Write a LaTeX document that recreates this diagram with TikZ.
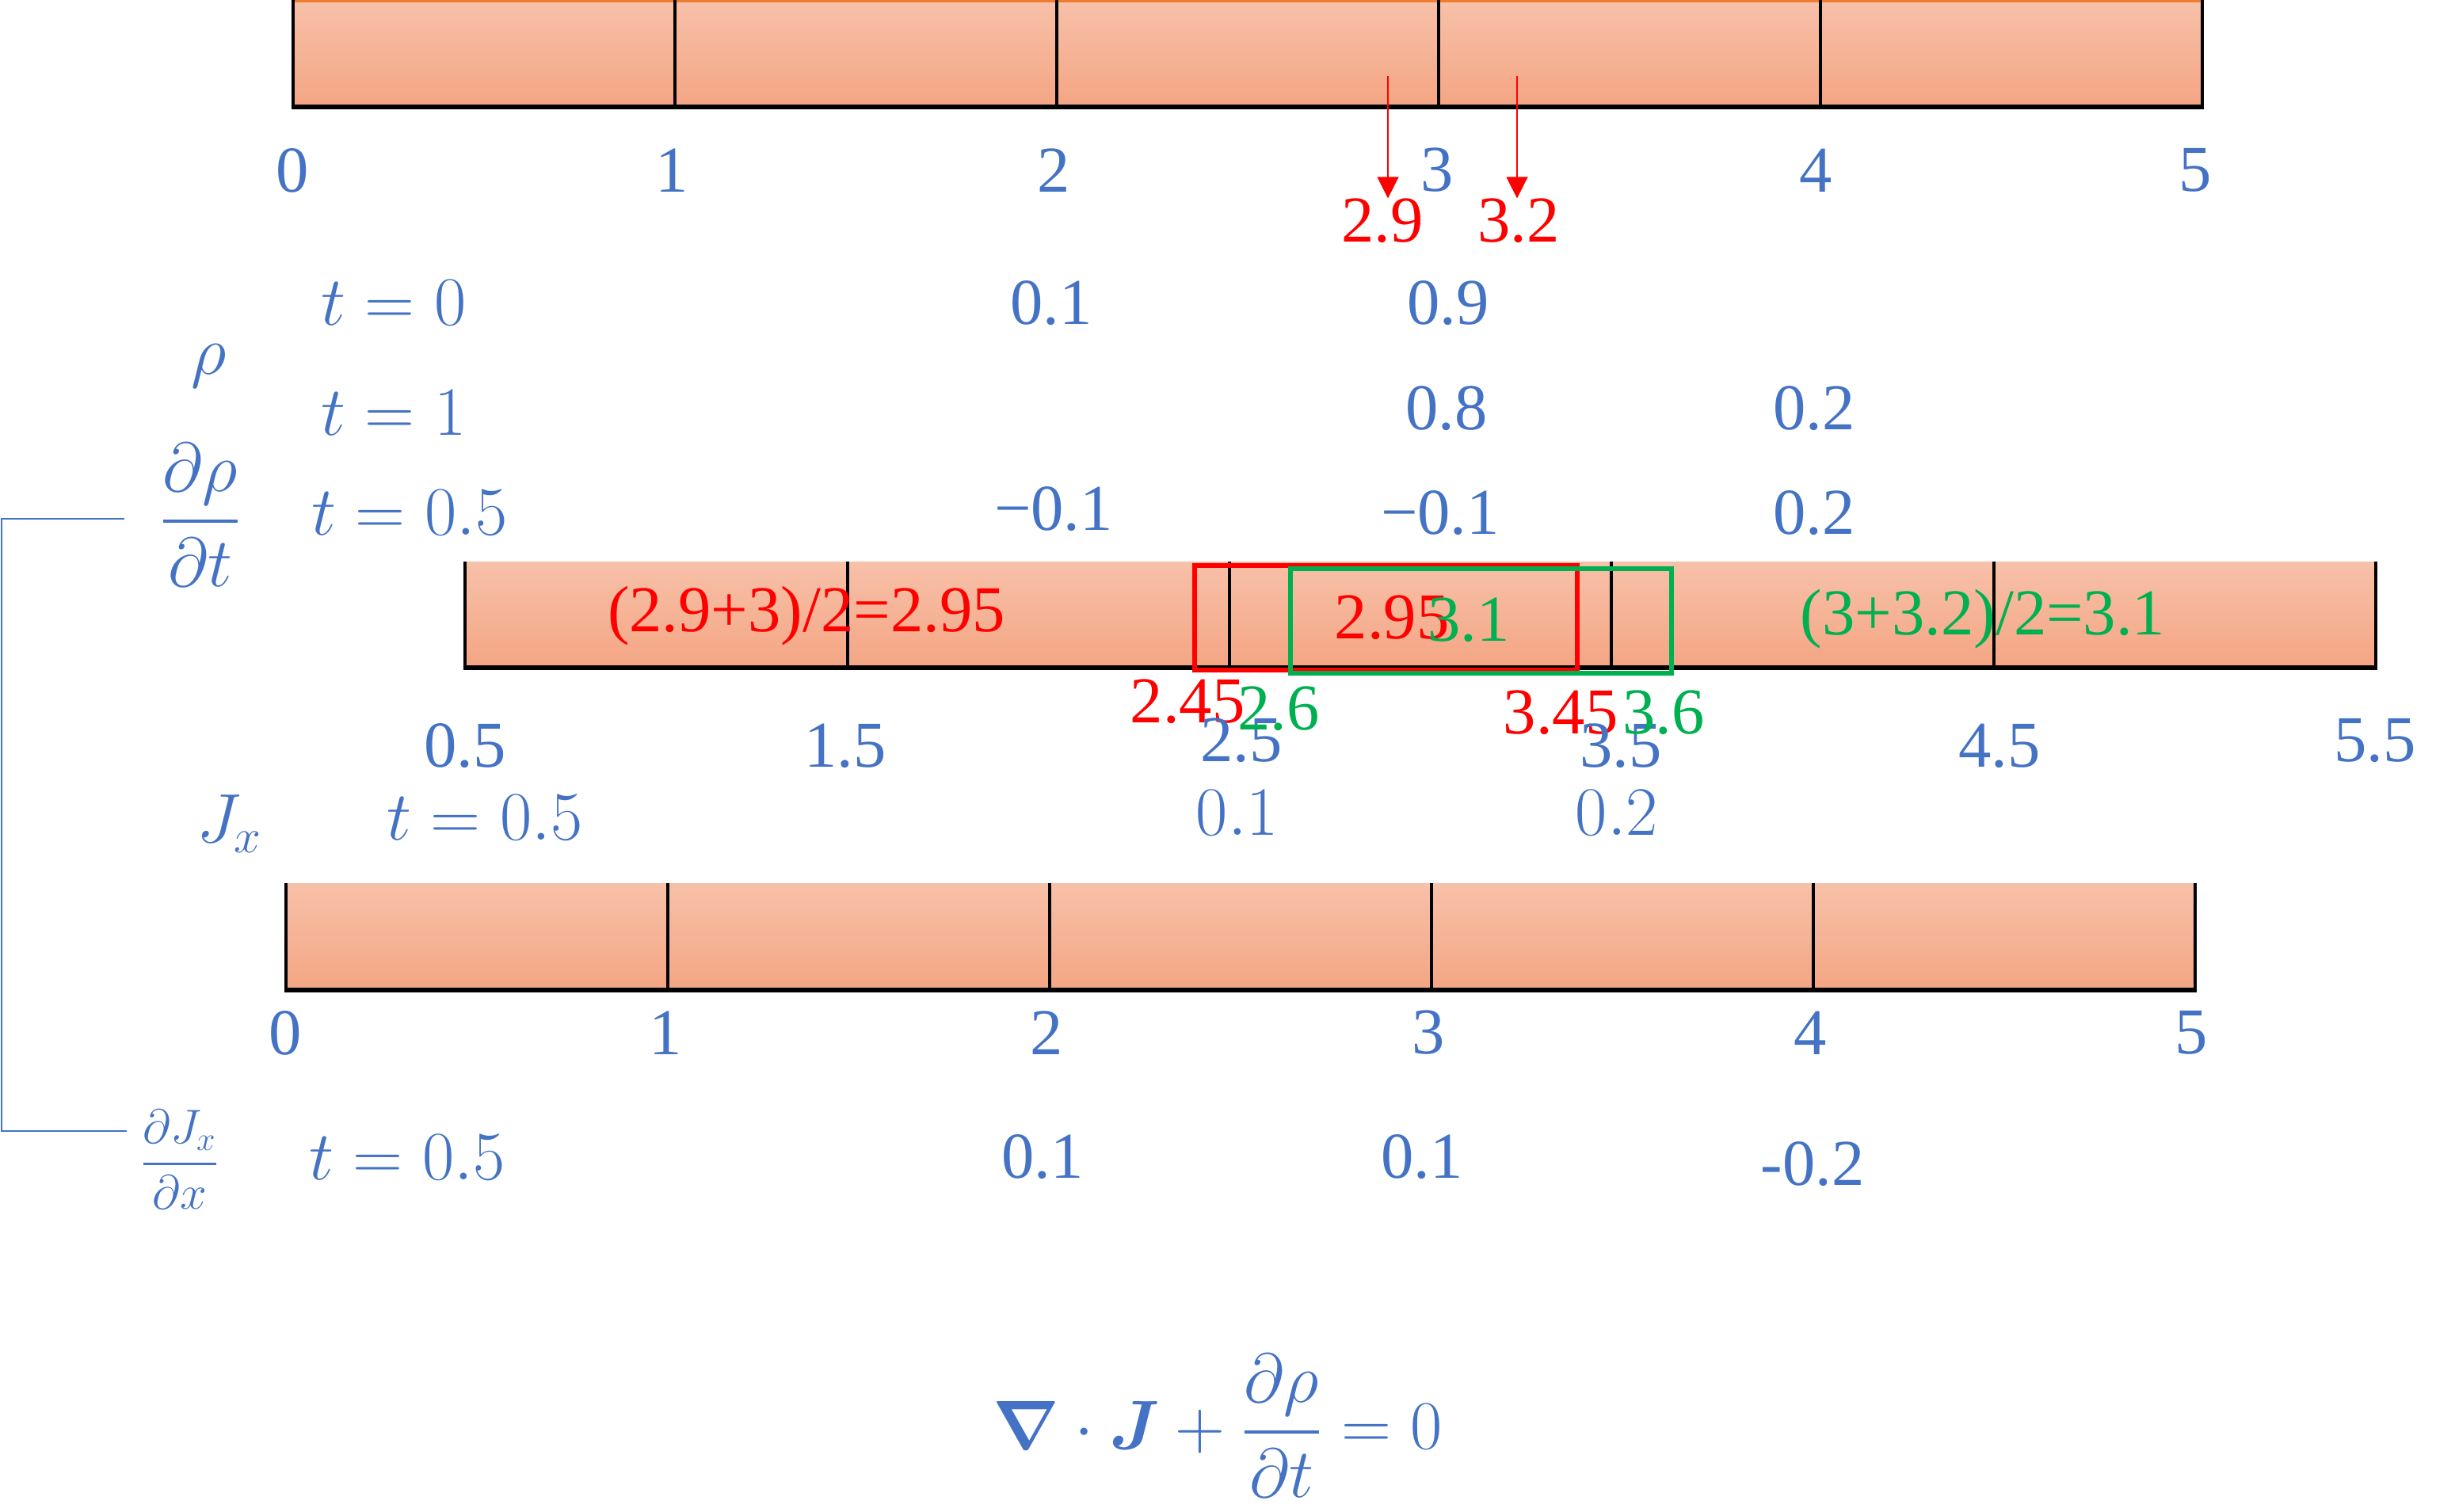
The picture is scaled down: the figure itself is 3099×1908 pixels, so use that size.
\documentclass[tikz,border=0pt]{standalone}
\usepackage{amsmath}
\usepackage{fontspec}
\setmainfont{Liberation Serif}
\usetikzlibrary{arrows.meta}

\definecolor{ublue}{RGB}{68,114,196}
\definecolor{ured}{RGB}{255,0,0}
\definecolor{ugreen}{RGB}{0,176,80}
\definecolor{uorange}{RGB}{237,125,49}
\definecolor{cellTop}{RGB}{247,193,169}
\definecolor{cellBot}{RGB}{244,165,131}

\tikzset{
  numtxt/.style={inner sep=0pt, font=\fontsize{23.5}{28}\selectfont},
  bluenum/.style={numtxt, text=ublue},
  rednum/.style={numtxt, text=ured},
  greennum/.style={numtxt, text=ugreen},
  mth/.style={inner sep=0pt, text=ublue, font=\fontsize{25}{30}\selectfont},
  cellfill/.style={top color=cellTop, bottom color=cellBot},
  divider/.style={black, line width=0.9pt},
  baseedge/.style={black, line width=1.5pt},
  winbox/.style={line width=1.7pt},
}

\begin{document}
\begin{tikzpicture}[x=0.01cm, y=-0.01cm]
\useasboundingbox (0,0) rectangle (3099,1908);

% top bar, rho on 0..5
\shade[cellfill] (370,0) rectangle (2780,135);
\draw[uorange, line width=0.9pt] (370,1.5) -- (2780,1.5);
\draw[divider] (370,0) -- (370,135);
\draw[divider] (852,0) -- (852,135);
\draw[divider] (1334,0) -- (1334,135);
\draw[divider] (1816,0) -- (1816,135);
\draw[divider] (2298,0) -- (2298,135);
\draw[divider] (2780,0) -- (2780,135);
\draw[baseedge] (368,135) -- (2782,135);

\node[bluenum] (top0) at (369,215) {0};
\node[bluenum] (top1) at (848,215) {1};
\node[bluenum] (top2) at (1330,215) {2};
\node[bluenum] (top3) at (1814,215) {3};
\node[bluenum] (top4) at (2292,215) {4};
\node[bluenum] (top5) at (2771,215) {5};

\node[rednum] (pos29) at (1745,279) {2.9};
\node[rednum] (pos32) at (1917,279) {3.2};
\coordinate (src29) at (1752,96);
\coordinate (src32) at (1915,96);
\draw[ured, line width=0.45pt, -{Triangle[width=7.7pt, length=7.7pt]}] (src29) -- (pos29.north -| src29);
\draw[ured, line width=0.45pt, -{Triangle[width=7.7pt, length=7.7pt]}] (src32) -- (pos32.north -| src32);

% rho rows
\node[mth] (rho) at (264,462) {$\rho$};
\node[mth] (tzero) at (497,382) {$t=0$};
\node[bluenum] (r01) at (1327,383) {0.1};
\node[bluenum] (r09) at (1828,383) {0.9};
\node[mth] (tone) at (497,521) {$t=1$};
\node[bluenum] (r08) at (1826,516) {0.8};
\node[bluenum] (r02) at (2290,516) {0.2};

\node[mth] (drho) at (253,650) {$\displaystyle\frac{\partial\rho}{\partial t}$};
\node[mth] (thalf) at (517,647) {$t=0.5$};
\node[bluenum] (d1) at (1330,643) {−0.1};
\node[bluenum] (d2) at (1818,648) {−0.1};
\node[bluenum] (d3) at (2290,648) {0.2};

% middle bar, J on 0.5..5.5
\shade[cellfill] (587,709) rectangle (2999,843);
\draw[divider] (587,709) -- (587,843);
\draw[divider] (1070,709) -- (1070,843);
\draw[divider] (1552,709) -- (1552,843);
\draw[divider] (2034,709) -- (2034,843);
\draw[divider] (2517,709) -- (2517,843);
\draw[divider] (2999,709) -- (2999,843);
\draw[baseedge] (585,843) -- (3001,843);

\node[rednum] (avgL) at (1018,778) {(2.9+3)/2=2.95};
\node[greennum] (avgR) at (2503,782) {(3+3.2)/2=3.1};

\draw[ured, winbox] (1508,714) rectangle (1991,846);
\node[rednum] (inL) at (1757,780) {2.95};
\draw[ugreen, winbox] (1629,718) rectangle (2110,850);
\node[greennum] (inR) at (1854,783) {3.1};

\node[rednum] (e245) at (1499,886) {2.45};
\node[rednum] (e345) at (1970,900) {3.45};
\node[bluenum] (mid05) at (587,942) {0.5};
\node[bluenum] (mid15) at (1067,942) {1.5};
\node[bluenum] (mid25) at (1567,935) {2.5};
\node[bluenum] (mid35) at (2046,942) {3.5};
\node[bluenum] (mid45) at (2524,942) {4.5};
\node[bluenum] (mid55) at (2998,935) {5.5};
\node[greennum] (e26) at (1614,895) {2.6};
\node[greennum] (e36) at (2100,900) {3.6};

% J row
\node[mth] (jx) at (290,1040) {$J_x$};
\node[mth] (tjx) at (612,1032) {$t=0.5$};
\node[mth] (j1) at (1562,1026) {$0.1$};
\node[mth] (j2) at (2041,1026) {$0.2$};

% bottom bar, dJ/dx on 0..5
\shade[cellfill] (361,1115) rectangle (2771,1250);
\draw[divider] (361,1115) -- (361,1250);
\draw[divider] (843,1115) -- (843,1250);
\draw[divider] (1325,1115) -- (1325,1250);
\draw[divider] (1807,1115) -- (1807,1250);
\draw[divider] (2289,1115) -- (2289,1250);
\draw[divider] (2771,1115) -- (2771,1250);
\draw[baseedge] (359,1250) -- (2773,1250);

\node[bluenum] (bot0) at (360,1304) {0};
\node[bluenum] (bot1) at (840,1304) {1};
\node[bluenum] (bot2) at (1321,1304) {2};
\node[bluenum] (bot3) at (1803,1304) {3};
\node[bluenum] (bot4) at (2285,1304) {4};
\node[bluenum] (bot5) at (2766,1304) {5};

\node[mth, font=\fontsize{18}{22}\selectfont] (djx) at (227,1464) {$\displaystyle\frac{\partial J_x}{\partial x}$};
\node[mth] (tdj) at (514,1461) {$t=0.5$};
\node[bluenum] (g1) at (1316,1461) {0.1};
\node[bluenum] (g2) at (1795,1461) {0.1};
\node[bluenum] (g3) at (2288,1470) {-0.2};

% bracket joining the two derivatives
\coordinate (brkTop) at (157,655);
\coordinate (brkBot) at (160,1428);
\draw[ublue, line width=0.6pt] (brkTop) -- ++(-155,0) |- (brkBot);

% continuity equation
\node[mth, font=\fontsize{23}{28}\selectfont] (law) at (1537,1800)
  {$\boldsymbol{\nabla}\cdot\boldsymbol{J}+\dfrac{\partial\rho}{\partial t}=0$};

\end{tikzpicture}
\end{document}
